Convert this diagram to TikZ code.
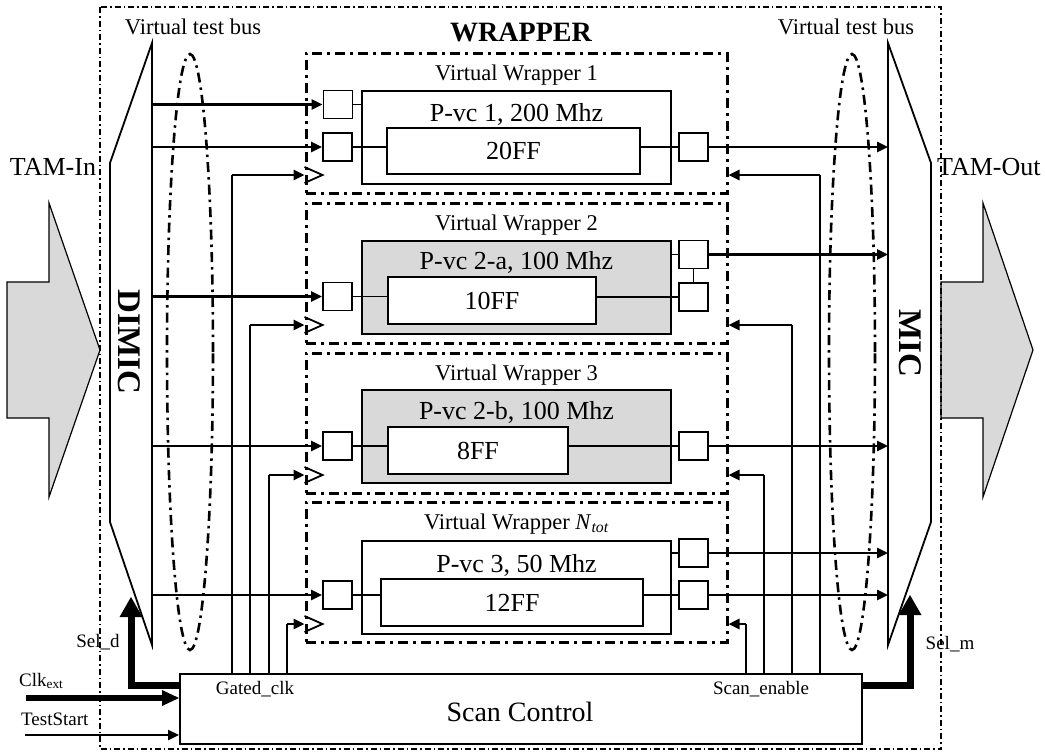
\documentclass[tikz,border=0pt]{standalone}
\usepackage{fontspec}
\setmainfont{Liberation Serif}
\usetikzlibrary{arrows.meta,shapes.geometric,calc}
\begin{document}
\begin{tikzpicture}[x=1pt,y=-1pt,
  outerb/.style={line width=1.5pt, dash pattern=on 6pt off 3pt on 1.5pt off 3pt},
  vwbox/.style={draw, line width=3pt, dash pattern=on 10pt off 5pt on 3pt off 5pt, minimum width=421pt, minimum height=140pt, inner sep=0pt},
  bus/.style={draw, ellipse, line width=2.6pt, dash pattern=on 10pt off 5pt on 2.5pt off 5pt, minimum width=46pt, minimum height=596pt, inner sep=0pt},
  sq/.style={draw, line width=1.8pt, fill=white, minimum width=29pt, minimum height=28pt, inner sep=0pt},
  pvc/.style={draw, line width=2pt, minimum width=309pt, minimum height=93pt, inner sep=0pt},
  ff/.style={draw, line width=2pt, fill=white, minimum height=46pt, inner sep=0pt, font=\fontsize{26}{30}\selectfont},
  lbl/.style={font=\fontsize{22.5}{26}\selectfont, inner sep=0pt},
  plbl/.style={font=\fontsize{26}{30}\selectfont, inner sep=0pt},
  small/.style={font=\fontsize{19}{22}\selectfont, inner sep=0pt},
  arr/.style={line width=2.6pt, -{Triangle[length=11pt,width=10pt]}},
  wire/.style={line width=1.5pt},
  gfill/.style={fill=black!15, line width=1.2pt},
  outl/.style={line width=1.8pt}
]
\useasboundingbox (0,0) rectangle (1045,753);

% TAM arrows
\draw[gfill] (7,282) -- (49,282) -- (49,203) -- (100,350) -- (49,497) -- (49,418) -- (7,418) -- cycle;
\draw[gfill] (941,282) -- (983,282) -- (983,203) -- (1033,350) -- (983,497) -- (983,418) -- (941,418) -- cycle;
\node[font=\fontsize{26}{30}\selectfont, inner sep=0pt] (tamin) at (53,167) {TAM-In};
\node[font=\fontsize{26}{30}\selectfont, inner sep=0pt, anchor=west] (tamout) at (937,167) {TAM-Out};

% outer wrapper
\draw[outerb] (100,7) rectangle (941,749);
\node[font=\fontsize{28}{32}\bfseries\selectfont, inner sep=0pt] (wrap) at (521,32) {WRAPPER};
\node[lbl] (vtbl) at (193,27) {Virtual test bus};
\node[lbl] (vtbr) at (846,27) {Virtual test bus};

% DIMIC / MIC
\draw[outl] (152,43) -- (110,163) -- (110,522) -- (152,645) -- cycle;
\draw[outl] (888,43) -- (931,163) -- (931,522) -- (888,645) -- cycle;
\coordinate (dimR) at (152,43);
\coordinate (micL) at (888,43);
\node[font=\fontsize{33}{36}\bfseries\selectfont, rotate=-90, inner sep=0pt] (dimic) at (129,342) {DIMIC};
\node[font=\fontsize{33}{36}\bfseries\selectfont, rotate=-90, inner sep=0pt] (mic) at (910,343) {MIC};

% buses
\node[bus] (busL) at (190,352) {};
\node[bus] (busR) at (852,352) {};

% virtual wrappers
\node[vwbox] (vw1) at (516.5,123) {};
\node[vwbox] (vw2) at (516.5,273) {};
\node[vwbox] (vw3) at (516.5,423) {};
\node[vwbox] (vw4) at (516.5,572) {};
\node[lbl] (vwl1) at (516.5,75) {Virtual Wrapper 1};
\node[lbl] (vwl2) at (516.5,225) {Virtual Wrapper 2};
\node[lbl] (vwl3) at (516.5,375) {Virtual Wrapper 3};
\node[lbl] (vwl4) at (516.5,524) {Virtual Wrapper \textit{N}\textsubscript{\textit{tot}}};

% P-vc boxes
\node[pvc] (p1) at (516.5,137.5) {};
\node[pvc, fill=black!15] (p2) at (516.5,287) {};
\node[pvc, fill=black!15] (p3) at (516.5,436.5) {};
\node[pvc] (p4) at (516.5,587.5) {};
\node[plbl] (pl1) at (516.5,114) {P-vc 1, 200 Mhz};
\node[plbl] (pl2) at (516.5,262) {P-vc 2-a, 100 Mhz};
\node[plbl] (pl3) at (516.5,412) {P-vc 2-b, 100 Mhz};
\node[plbl] (pl4) at (516.5,565) {P-vc 3, 50 Mhz};

% FF boxes
\node[ff, minimum width=253pt] (f1) at (513.5,151) {20FF};
\node[ff, minimum width=208pt, minimum height=47pt] (f2) at (492,300.5) {10FF};
\node[ff, minimum width=180pt, minimum height=47pt] (f3) at (478,450.5) {8FF};
\node[ff, minimum width=262pt, minimum height=47pt] (f4) at (512,602.5) {12FF};

% squares
\node[sq] (i1a) at (338,104.5) {};
\node[sq] (i1b) at (337.5,147) {};
\node[sq] (o1) at (693.5,147) {};
\node[sq] (i2) at (337.5,296.5) {};
\node[sq] (o2a) at (693.5,254.5) {};
\node[sq] (o2b) at (693.5,297) {};
\node[sq] (i3) at (337.5,446) {};
\node[sq] (o3) at (693.5,446) {};
\node[sq] (i4) at (337.5,595) {};
\node[sq] (o4a) at (693.5,553) {};
\node[sq] (o4b) at (693.5,595) {};

% internal wires
\draw[wire] (i1a.east) -- (i1a.east -| p1.west);
\draw[wire] (i1b.east) -- (i1b.east -| f1.west);
\draw[wire] (o1.west) -- (o1.west -| f1.east);
\draw[wire] (i2.east) -- (i2.east -| f2.west);
\draw[wire] (o2b.west) -- (o2b.west -| f2.east);
\draw[wire] (o2a.west) -- (o2a.west -| p2.east);
\draw[wire] (o2a.south) -- (o2b.north);
\draw[wire] (i3.east) -- (i3.east -| f3.west);
\draw[wire] (o3.west) -- (o3.west -| f3.east);
\draw[wire] (i4.east) -- (i4.east -| f4.west);
\draw[wire] (o4b.west) -- (o4b.west -| f4.east);
\draw[wire] (o4a.west) -- (o4a.west -| p4.east);

% inputs from DIMIC
\foreach \n in {i1a,i1b,i2,i3,i4} {
  \draw[arr] (dimR |- \n.west) -- (\n.west);
}
% outputs to MIC
\foreach \n in {o1,o2a,o3,o4a,o4b} {
  \draw[arr] (\n.east) -- (\n.east -| micL);
}

% scan control
\node[draw, line width=2pt, minimum width=682pt, minimum height=70pt, inner sep=0pt] (sc) at (521,709) {};
\node[font=\fontsize{28}{32}\selectfont, inner sep=0pt] (sct) at (520,712) {Scan Control};
\node[small] (gcl) at (255,689) {Gated\_clk};
\node[small] (sel) at (761,689) {Scan\_enable};

% gated clocks
\coordinate (g1) at (232,175);
\coordinate (g2) at (250,325);
\coordinate (g3) at (269,475);
\coordinate (g4) at (287,624);
\coordinate (s1) at (820,175);
\coordinate (s2) at (792,325);
\coordinate (s3) at (764,475);
\coordinate (s4) at (746,624);
\foreach \g/\v in {g1/vw1,g2/vw2,g3/vw3,g4/vw4} {
  \draw[wire] (\g |- sc.north) -- (\g);
  \draw[arr] (\g) -- (\g -| \v.west);
  \draw[outl] ($(\g -| \v.west)+(0,-8)$) -- ++(18,8) -- ++(-18,8);
}
\foreach \s/\v in {s1/vw1,s2/vw2,s3/vw3,s4/vw4} {
  \draw[wire] (\s |- sc.north) -- (\s);
  \draw[arr] (\s) -- (\s -| \v.east);
}

% select lines
\coordinate (scl) at (180,685);
\coordinate (scr) at (862,685);
\coordinate (seldt) at (131,597);
\coordinate (selmt) at (910,595);
\draw[line width=7pt, -{Triangle[length=20pt,width=23pt,line width=0pt]}] (scl) -- (seldt |- scl) -- (seldt);
\draw[line width=7pt, -{Triangle[length=20pt,width=23pt,line width=0pt]}] (scr) -- (selmt |- scr) -- (selmt);
\node[small] (seldl) at (98,642) {Sel\_d};
\node[small] (selml) at (950,644) {Sel\_m};

% external inputs
\coordinate (clks) at (26,698);
\coordinate (tss) at (25,735);
\draw[line width=6pt, -{Triangle[length=17pt,width=16pt,line width=0pt]}] (clks) -- (clks -| sc.west);
\draw[line width=2.4pt, -{Triangle[length=11pt,width=10pt]}] (tss) -- (tss -| sc.west);
\node[small, anchor=west] (clkl) at (19,681) {Clk\textsubscript{ext}};
\node[small, anchor=west] (tsl) at (21,719) {TestStart};
\end{tikzpicture}
\end{document}
